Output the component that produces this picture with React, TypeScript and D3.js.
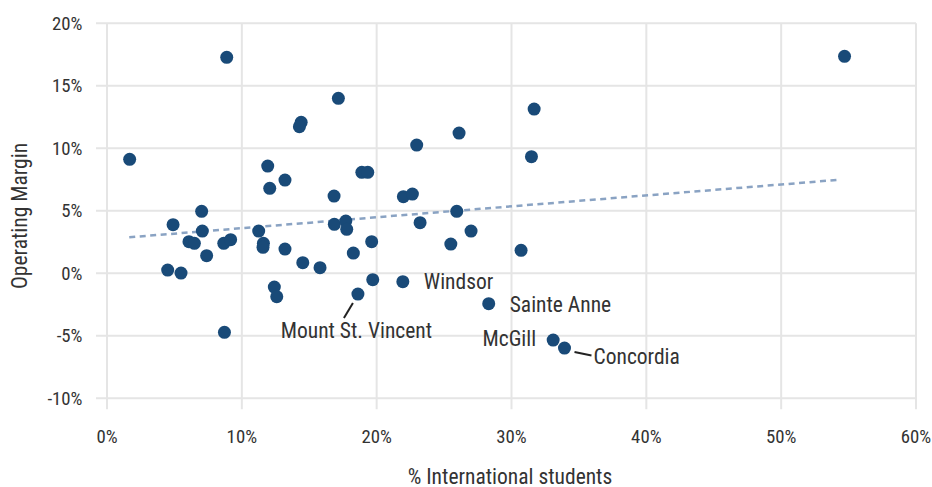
import React from "react";
import * as d3 from "d3";

const intlPct = [1.68, 8.88, 14.4, 14.27, 11.92, 13.2, 12.07, 17.16, 31.68, 26.11, 22.97, 31.48, 18.9, 19.34, 16.84, 21.98, 22.65, 54.7, 4.5, 5.49, 4.9, 7.02, 7.07, 6.08, 6.48, 7.39, 8.66, 9.17, 8.71, 11.25, 11.6, 11.57, 13.2, 14.52, 15.8, 12.41, 12.59, 16.86, 17.71, 17.78, 19.63, 18.27, 23.22, 25.94, 27.0, 25.5, 30.71, 19.71, 21.94, 18.61, 28.31, 33.09, 33.93];
const opMargin = [9.12, 17.28, 12.08, 11.73, 8.58, 7.46, 6.8, 14.0, 13.14, 11.22, 10.26, 9.33, 8.08, 8.08, 6.18, 6.13, 6.34, 17.36, 0.26, 0.02, 3.89, 4.96, 3.38, 2.53, 2.4, 1.41, 2.4, 2.69, -4.72, 3.38, 2.4, 2.08, 1.94, 0.85, 0.45, -1.1, -1.87, 3.92, 4.18, 3.52, 2.53, 1.62, 4.05, 4.96, 3.38, 2.34, 1.84, -0.51, -0.67, -1.66, -2.43, -5.34, -5.98];
const schoolNames = ["", "", "", "", "", "", "", "", "", "", "", "", "", "", "", "", "", "", "", "", "", "", "", "", "", "", "", "", "", "", "", "", "", "", "", "", "", "", "", "", "", "", "", "", "", "", "", "", "Windsor", "Mount St. Vincent", "Sainte Anne", "McGill", "Concordia"];

const xTicks = [0, 10, 20, 30, 40, 50, 60];
const yTicks = [-10, -5, 0, 5, 10, 15, 20];
const trendX = [1.65, 54.4];
const trendY = [2.88, 7.49];

// label layout (pixel offsets relative to point)
const labelLayout: Record<string, { dx: number; dy: number; anchor: string; leader?: [number, number, number, number] }> = {
  Windsor: { dx: 21, dy: 0, anchor: "start" },
  "Sainte Anne": { dx: 21, dy: 1, anchor: "start" },
  "Mount St. Vincent": { dx: -1.5, dy: 36, anchor: "middle", leader: [-5, 9, -14, 24] },
  McGill: { dx: -17, dy: -1.5, anchor: "end" },
  Concordia: { dx: 29, dy: 8, anchor: "start", leader: [10, 4, 27, 7.5] },
};

const W = 932, H = 487;
const left = 107, right = 916, top = 23.3, bottom = 398.3;
const FONT = "'Roboto Condensed', 'Roboto', sans-serif";
const gridColor = "#e5e5e5";
const textColor = "#333333";
const dotColor = "#194a78";
const tickSize = 18.8;
const labelSize = 21.5;

export default function App() {
  const x = d3.scaleLinear().domain([0, 60]).range([left, right]);
  const y = d3.scaleLinear().domain([-10, 20]).range([bottom, top]);
  const fmt = (v: number) => `${v}%`;
  const trendLine = d3.line<number>().x((_, i) => x(trendX[i])).y((_, i) => y(trendY[i]));

  return (
    <svg width={W} height={H} style={{ position: "absolute", left: 0, top: 0, fontFamily: FONT, fontStretch: "condensed" }}>
      <rect width={W} height={H} fill="#ffffff" />
      {yTicks.map((t) => (
        <g key={"y" + t}>
          <line x1={left - 11} x2={right} y1={y(t)} y2={y(t)} stroke={gridColor} strokeWidth={2} />
          <text x={82.5} y={y(t)} dy="0.35em" textAnchor="end" fontSize={tickSize} fill={textColor}>{fmt(t)}</text>
        </g>
      ))}
      {xTicks.map((t) => (
        <g key={"x" + t}>
          <line x1={x(t)} x2={x(t)} y1={top} y2={bottom + 11} stroke={gridColor} strokeWidth={2} />
          <text x={x(t)} y={436.7} dy="0.35em" textAnchor="middle" fontSize={tickSize} fill={textColor}>{fmt(t)}</text>
        </g>
      ))}
      <path d={trendLine([0, 1]) || ""} fill="none" stroke="#8aa3c3" strokeWidth={2.5} strokeDasharray="6,4.5" />
      {intlPct.map((v, i) => (
        <circle key={"p" + i} cx={x(v)} cy={y(opMargin[i])} r={6.5} fill={dotColor} />
      ))}
      {schoolNames.map((name, i) => {
        if (!name) return null;
        const L = labelLayout[name];
        const px = x(intlPct[i]), py = y(opMargin[i]);
        return (
          <g key={"l" + i}>
            {L.leader && (
              <line x1={px + L.leader[0]} y1={py + L.leader[1]} x2={px + L.leader[2]} y2={py + L.leader[3]} stroke="#222" strokeWidth={2} />
            )}
            <text x={px + L.dx} y={py + L.dy} dy="0.35em" textAnchor={L.anchor} fontSize={labelSize} fill={textColor}>{name}</text>
          </g>
        );
      })}
      <text x={510} y={484} textAnchor="middle" fontSize={labelSize} fill={textColor}>% International students</text>
      <text transform={`translate(19,216) rotate(-90)`} dy="0.35em" textAnchor="middle" fontSize={labelSize} fill={textColor}>Operating Margin</text>
    </svg>
  );
}
